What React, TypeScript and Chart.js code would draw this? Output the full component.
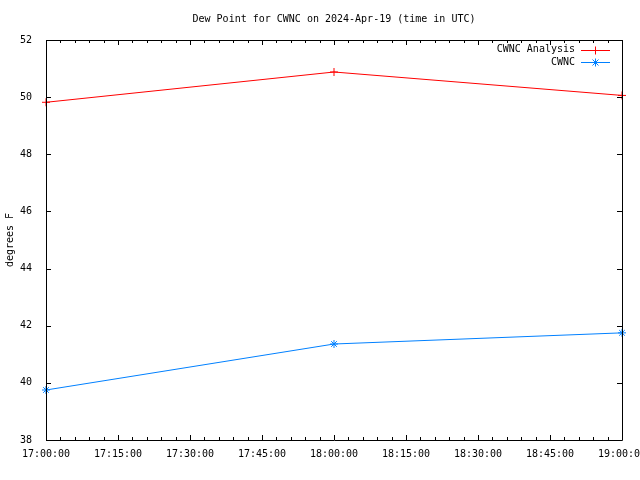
import React, { useEffect, useRef } from "react";
import { Chart, registerables } from "chart.js";

Chart.register(...registerables);

const TITLE = "Dew Point for CWNC on 2024-Apr-19 (time in UTC)";
const Y_LABEL = "degrees F";
const times = ["17:00:00", "18:00:00", "19:00:00"];
const analysisValues = [49.82, 50.88, 50.06];
const cwncValues = [39.75, 41.36, 41.75];
const seriesNames = ["CWNC Analysis", "CWNC"];
const seriesColors = ["#ff0000", "#0080ff"];
const X_MIN = "17:00:00";
const X_MAX = "19:00:00";
const X_STEP_SEC = 900;
const X_MINOR_SEC = 180;
const Y_MIN = 38;
const Y_MAX = 52;
const Y_STEP = 2;

const FONT = "'DejaVu Sans Mono', 'Liberation Mono', monospace";

function toSec(t: string): number {
  const [h, m, s] = t.split(":").map(Number);
  return h * 3600 + m * 60 + s;
}
function fmt(sec: number): string {
  const h = Math.floor(sec / 3600);
  const m = Math.floor((sec % 3600) / 60);
  const s = Math.round(sec % 60);
  const p = (n: number) => String(n).padStart(2, "0");
  return `${p(h)}:${p(m)}:${p(s)}`;
}

const framePlugin = {
  id: "gnuframe",
  afterDraw(chart: any) {
    const { ctx, chartArea } = chart;
    const { left, right, top, bottom } = chartArea;
    const xs = chart.scales.x;
    const ys = chart.scales.y;
    ctx.save();
    ctx.strokeStyle = "#000";
    ctx.lineWidth = 1;
    ctx.beginPath();
    ctx.rect(Math.round(left) + 0.5, Math.round(top) + 0.5, Math.round(right - left), Math.round(bottom - top));
    ctx.stroke();
    const xmin = toSec(X_MIN);
    const xmax = toSec(X_MAX);
    ctx.beginPath();
    for (let v = xmin; v <= xmax + 0.001; v += X_MINOR_SEC) {
      const major = (v - xmin) % X_STEP_SEC === 0;
      const len = major ? 5 : 3;
      const px = Math.round(xs.getPixelForValue(v)) + 0.5;
      ctx.moveTo(px, bottom);
      ctx.lineTo(px, bottom - len);
      ctx.moveTo(px, top);
      ctx.lineTo(px, top + len);
    }
    for (let v = Y_MIN; v <= Y_MAX + 0.001; v += Y_STEP) {
      const py = Math.round(ys.getPixelForValue(v)) + 0.5;
      ctx.moveTo(left, py);
      ctx.lineTo(left + 5, py);
      ctx.moveTo(right, py);
      ctx.lineTo(right - 5, py);
    }
    ctx.stroke();

    ctx.fillStyle = "#000";
    ctx.font = `10px ${FONT}`;
    ctx.textAlign = "center";
    ctx.textBaseline = "middle";
    ctx.fillText(TITLE, (left + right) / 2, 19.5);

    const rows = [49.5, 62];
    chart.data.datasets.forEach((ds: any, i: number) => {
      const y = rows[i];
      ctx.fillStyle = "#000";
      ctx.textAlign = "right";
      ctx.fillText(ds.label, 575, y);
      ctx.strokeStyle = ds.borderColor;
      ctx.lineWidth = 1;
      const ly = Math.round(y) + 0.5;
      ctx.beginPath();
      ctx.moveTo(581, ly);
      ctx.lineTo(610, ly);
      const cx = 595.5;
      const r = 4;
      ctx.moveTo(cx - r, ly);
      ctx.lineTo(cx + r, ly);
      ctx.moveTo(cx, ly - r);
      ctx.lineTo(cx, ly + r);
      if (ds.pointStyle === "star") {
        const d = r * 0.75;
        ctx.moveTo(cx - d, ly - d);
        ctx.lineTo(cx + d, ly + d);
        ctx.moveTo(cx - d, ly + d);
        ctx.lineTo(cx + d, ly - d);
      }
      ctx.stroke();
    });
    ctx.restore();
  },
};

export default function App() {
  const ref = useRef<HTMLCanvasElement | null>(null);
  useEffect(() => {
    if (!ref.current) return;
    const chart = new Chart(ref.current, {
      type: "line",
      data: {
        datasets: [
          {
            label: seriesNames[0],
            data: times.map((t, i) => ({ x: toSec(t), y: analysisValues[i] })),
            borderColor: seriesColors[0],
            backgroundColor: seriesColors[0],
            borderWidth: 1,
            pointStyle: "cross",
            pointRadius: 4,
            pointBorderWidth: 1,
            clip: false as any,
          },
          {
            label: seriesNames[1],
            data: times.map((t, i) => ({ x: toSec(t), y: cwncValues[i] })),
            borderColor: seriesColors[1],
            backgroundColor: seriesColors[1],
            borderWidth: 1,
            pointStyle: "star",
            pointRadius: 4,
            pointBorderWidth: 1,
            clip: false as any,
          },
        ],
      },
      options: {
        animation: false,
        responsive: false,
        events: [],
        layout: { padding: { left: 0, right: 18, top: 40, bottom: 0 } },
        plugins: { legend: { display: false }, title: { display: false }, tooltip: { enabled: false } },
        scales: {
          x: {
            type: "linear",
            min: toSec(X_MIN),
            max: toSec(X_MAX),
            grid: { display: false },
            border: { display: false },
            ticks: {
              stepSize: X_STEP_SEC,
              maxRotation: 0,
              autoSkip: false,
              padding: 0,
              color: "#000",
              font: { family: FONT, size: 10 },
              callback: (v: any) => fmt(Number(v)),
            },
            afterFit: (s: any) => {
              s.height = 40;
              s.paddingLeft = 0;
              s.paddingRight = 0;
            },
          },
          y: {
            min: Y_MIN,
            max: Y_MAX,
            grid: { display: false },
            border: { display: false },
            title: {
              display: true,
              text: Y_LABEL,
              color: "#000",
              font: { family: FONT, size: 10 },
              padding: { top: 4, bottom: 0 },
            },
            ticks: {
              stepSize: Y_STEP,
              padding: 6,
              color: "#000",
              font: { family: FONT, size: 10 },
            },
            afterFit: (s: any) => {
              s.width = 46;
              s.paddingTop = 0;
              s.paddingBottom = 0;
            },
          },
        },
      },
      plugins: [framePlugin],
    });
    return () => chart.destroy();
  }, []);
  return (
    <div style={{ position: "fixed", left: 0, top: 0, width: 640, height: 480, background: "#fff" }}>
      <canvas ref={ref} width={640} height={480} style={{ width: 640, height: 480 }} />
    </div>
  );
}
